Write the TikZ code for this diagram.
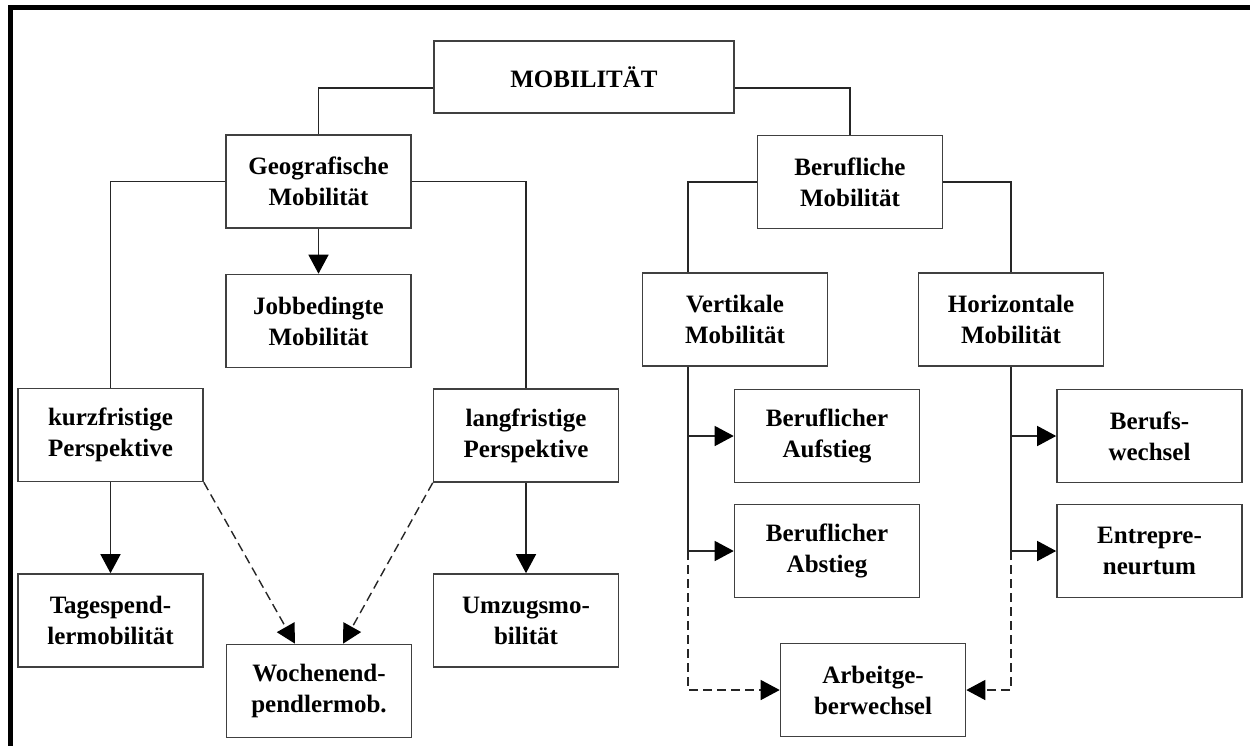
\documentclass[tikz,border=0pt]{standalone}
\usepackage{fontspec}
\setmainfont{Liberation Serif}
\usetikzlibrary{arrows.meta}

\begin{document}
\begin{tikzpicture}
[every node/.style={inner sep=0pt, align=center, font=\fontsize{25}{31}\selectfont\bfseries},
 box/.style={rectangle, minimum width=185pt, minimum height=93pt, line width=1.6pt, draw=black!75},
 link/.style={line width=1.4pt, color=black!85},
 arr/.style={link, -{Triangle[length=19pt, width=20pt, fill=black, color=black]}},
 dasharr/.style={arr, dash pattern=on 9pt off 5pt}]
\useasboundingbox (0pt, 0pt) rectangle (1250pt, -745pt);
\draw [line width=4.5pt, color=black] (10.5pt, -750pt) -- (10.5pt, -7.5pt) -- (1255pt, -7.5pt);
\node (mob) [box, minimum width=300pt, minimum height=72pt] at (584pt, -77pt) {MOBILITÄT};
\node (geo) [box] at (318.5pt, -181.5pt) {Geografische\\Mobilität};
\node (beruf) [box] at (850pt, -182pt) {Berufliche\\Mobilität};
\node (job) [box] at (318.5pt, -321pt) {Jobbedingte\\Mobilität};
\node (vert) [box] at (735pt, -319.5pt) {Vertikale\\Mobilität};
\node (hori) [box] at (1011pt, -319.5pt) {Horizontale\\Mobilität};
\node (kurz) [box] at (110.5pt, -435pt) {kurzfristige\\Perspektive};
\node (lang) [box] at (526pt, -435.5pt) {langfristige\\Perspektive};
\node (aufst) [box] at (827pt, -436pt) {Beruflicher\\Aufstieg};
\node (abst) [box] at (827pt, -551pt) {Beruflicher\\Abstieg};
\node (bwech) [box] at (1149.5pt, -436pt) {Berufs-\\wechsel};
\node (entre) [box] at (1149.5pt, -551pt) {Entrepre-\\neurtum};
\node (tages) [box] at (110.5pt, -620.5pt) {Tagespend-\\lermobilität};
\node (wochen) [box] at (319pt, -691pt) {Wochenend-\\pendlermob.};
\node (umzug) [box] at (526pt, -620.5pt) {Umzugsmo-\\bilität};
\node (agw) [box] at (873pt, -690pt) {Arbeitge-\\berwechsel};
% top level
\draw [link] ([yshift=-11pt]mob.west) -| (geo.north);
\draw [link] ([yshift=-11pt]mob.east) -| (beruf.north);
% geografische Mobilitaet
\draw [link] (geo.west) -| (kurz.north);
\draw [link] (geo.east) -| (lang.north);
\draw [arr] (geo) -- (job);
\draw [arr] (kurz) -- (tages);
\draw [arr] (lang) -- (umzug);
\draw [dasharr] (kurz.south east) -- ([xshift=-24pt]wochen.north);
\draw [dasharr] (lang.south west) -- ([xshift=24pt]wochen.north);
% berufliche Mobilitaet
\draw [link] (beruf.west) -| ([xshift=-47pt]vert.north);
\draw [link] (beruf.east) -| (hori.north);
\draw [link] ([xshift=-47pt]vert.south) coordinate (vs) -- (vs |- abst.west) coordinate (vj);
\draw [arr] (vs |- aufst.west) -- (aufst.west);
\draw [arr] (vj) -- (abst.west);
\draw [dasharr] (vj) |- (agw.west);
\draw [link] (hori.south) -- (hori.south |- entre.west) coordinate (hj);
\draw [arr] (hori.south |- bwech.west) -- (bwech.west);
\draw [arr] (hj) -- (entre.west);
\draw [dasharr] (hj) |- (agw.east);
\end{tikzpicture}
\end{document}
